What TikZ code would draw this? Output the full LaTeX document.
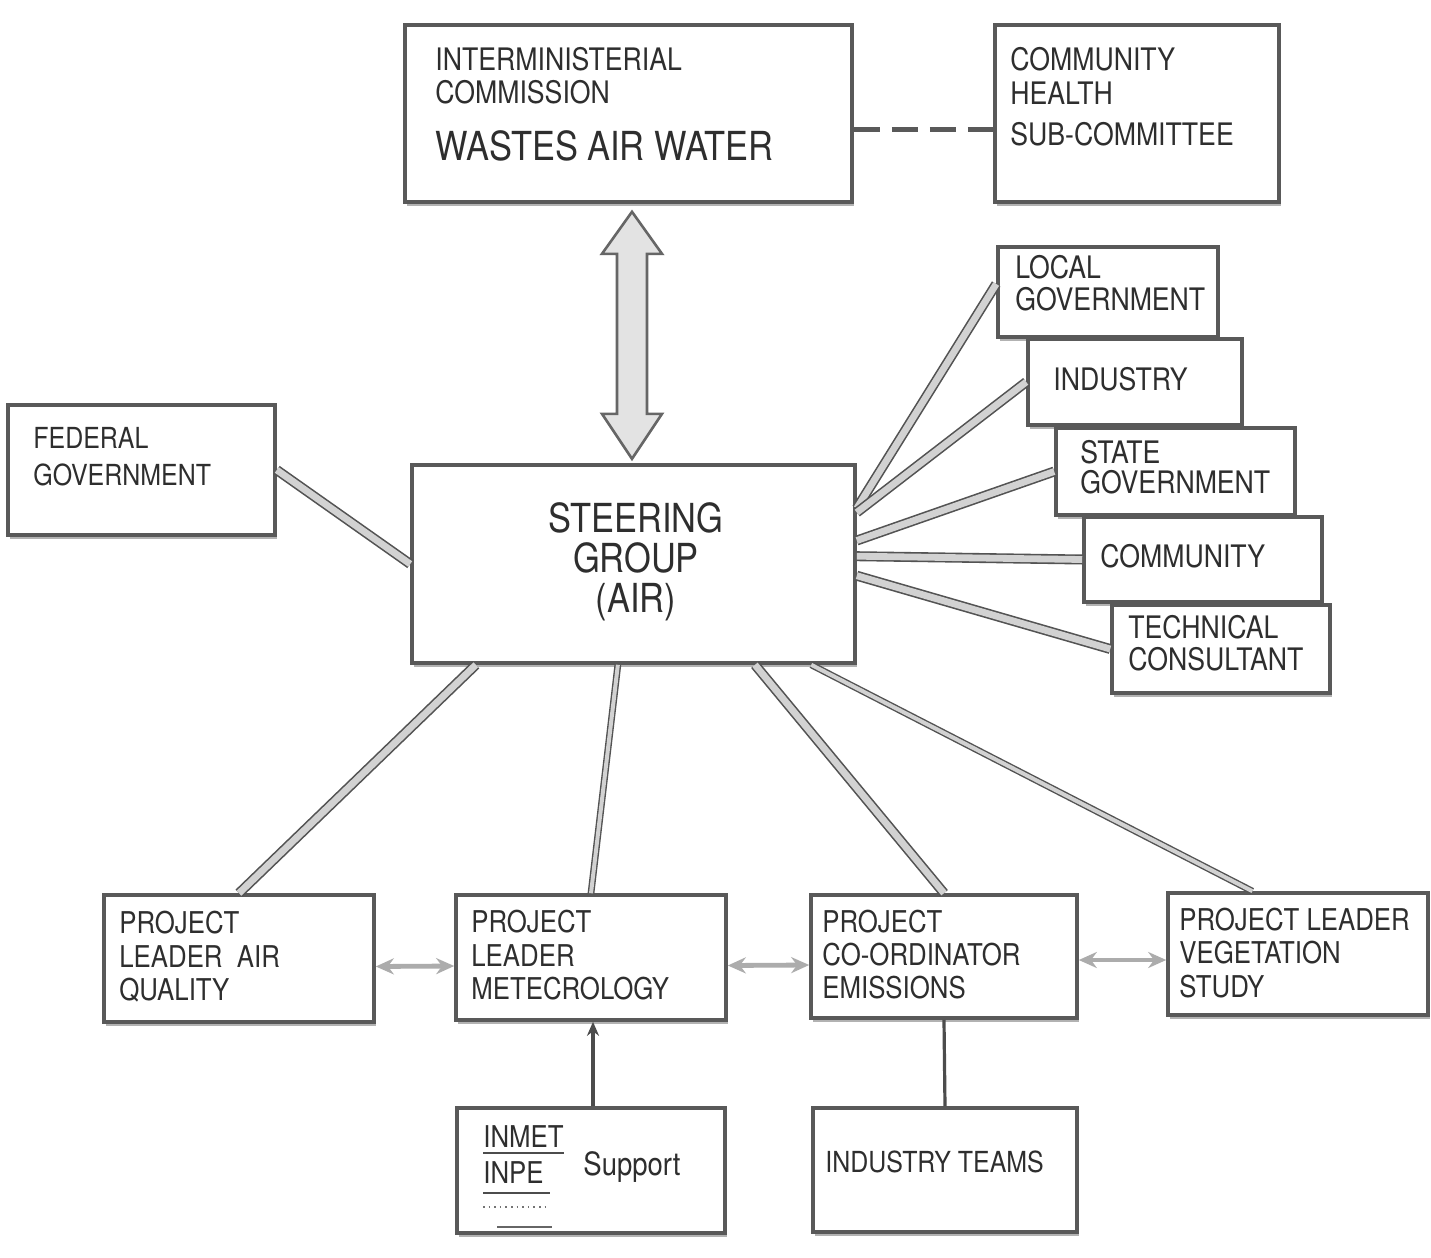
\documentclass[tikz,border=0pt]{standalone}
\usepackage{fontspec}
\setmainfont{TeX Gyre Heros}[FakeStretch=0.86]
\usetikzlibrary{arrows.meta,shadows,fit,calc}
\begin{document}
\begin{tikzpicture}[x=0.5pt,y=-0.5pt,
  box/.style={draw=black!65, line width=1.8pt, fill=white, inner sep=0pt,
    drop shadow={shadow xshift=1.2pt, shadow yshift=-2.2pt, fill=gray!60, opacity=1}},
  lbl/.style={anchor=base west, inner sep=0pt, text=black!82, font=\fontsize{15.5}{18}\selectfont},
  lblc/.style={lbl, anchor=base},
  big/.style={font=\fontsize{20}{24}\selectfont},
  med/.style={font=\fontsize{14.5}{17}\selectfont},
  prj/.style={font=\fontsize{15}{18}\selectfont},
  link/.style={draw=gray!65!black, line width=0.8pt, double=gray!35, double distance=3.4pt},
  thinlink/.style={draw=gray!65!black, line width=0.7pt, double=gray!35, double distance=2pt},
  harrow/.style={draw=gray!65, line width=2.4pt, {Stealth[length=9pt,width=8pt]}-{Stealth[length=9pt,width=8pt]}},
  vline/.style={draw=black!70, line width=1.6pt},
  dashlink/.style={draw=black!65, line width=2.6pt, dash pattern=on 13pt off 6pt},
  bigarrow/.style={draw=black!60, line width=1.3pt, fill=gray!22}
]
\fill[white] (0,0) rectangle (1431,1258);
\useasboundingbox (0,0) rectangle (1431,1258);

% boxes
\node[box, fit={(405,25)(852,202)}] (ic) {};
\node[box, fit={(995,25)(1279,202)}] (ch) {};
\node[box, fit={(412,465)(855,663)}] (st) {};
\node[box, fit={(8,405)(275,535)}] (fed) {};
\node[box, fit={(998,247)(1218,337)}] (lg) {};
\node[box, fit={(1028,339)(1242,425)}] (ind) {};
\node[box, fit={(1056,428)(1295,515)}] (sg) {};
\node[box, fit={(1084,517)(1322,602)}] (com) {};
\node[box, fit={(1112,605)(1330,693)}] (tc) {};
\node[box, fit={(104,895)(374,1022)}] (aq) {};
\node[box, fit={(456,895)(726,1020)}] (met) {};
\node[box, fit={(811,895)(1077,1018)}] (em) {};
\node[box, fit={(1168,893)(1428,1015)}] (veg) {};
\node[box, fit={(457,1108)(725,1233)}] (sup) {};
\node[box, fit={(813,1108)(1077,1232)}] (it) {};

% texts
\node[lbl] (ic1) at (435,70) {INTERMINISTERIAL};
\node[lbl] (ic2) at (435,103) {COMMISSION};
\node[lbl,big] (ic3) at (435,160) {WASTES AIR WATER};
\node[lbl] (ch1) at (1010,70) {COMMUNITY};
\node[lbl] (ch2) at (1010,104) {HEALTH};
\node[lbl] (ch3) at (1010,145) {SUB-COMMITTEE};
\node[lblc,big] (st1) at (636,532) {STEERING};
\node[lblc,big] (st2) at (636,572) {GROUP};
\node[lblc,big] (st3) at (636,612) {(AIR)};
\node[lbl,med] (fed1) at (33,448) {FEDERAL};
\node[lbl,med] (fed2) at (33,485) {GOVERNMENT};
\node[lbl] (lg1) at (1015,278) {LOCAL};
\node[lbl] (lg2) at (1015,310) {GOVERNMENT};
\node[lbl] (ind1) at (1053,390) {INDUSTRY};
\node[lbl] (sg1) at (1080,463) {STATE};
\node[lbl] (sg2) at (1080,493) {GOVERNMENT};
\node[lbl] (com1) at (1100,567) {COMMUNITY};
\node[lbl] (tc1) at (1128,638) {TECHNICAL};
\node[lbl] (tc2) at (1128,670) {CONSULTANT};
\node[lbl,prj] (aq1) at (119,933) {PROJECT};
\node[lbl,prj] (aq2) at (119,967) {LEADER\ \ AIR};
\node[lbl,prj] (aq3) at (119,1000) {QUALITY};
\node[lbl,prj] (met1) at (471,932) {PROJECT};
\node[lbl,prj] (met2) at (471,966) {LEADER};
\node[lbl,prj] (met3) at (471,999) {METECROLOGY};
\node[lbl,prj] (em1) at (822,932) {PROJECT};
\node[lbl,prj] (em2) at (822,965) {CO-ORDINATOR};
\node[lbl,prj] (em3) at (822,998) {EMISSIONS};
\node[lbl,prj] (veg1) at (1179,930) {PROJECT LEADER};
\node[lbl,prj] (veg2) at (1179,963) {VEGETATION};
\node[lbl,prj] (veg3) at (1179,997) {STUDY};
\node[lbl,prj] (sup1) at (483,1147) {INMET};
\node[lbl,prj] (sup2) at (483,1183) {INPE};
\node[lbl,font=\fontsize{16}{19}\selectfont] (sup3) at (583,1175) {Support};
\node[lbl,med] (it1) at (825,1172) {INDUSTRY TEAMS};

% underlines in support box
\draw[black!70, line width=1.2pt] ($(sup1.base west)+(0,6)$) -- ($(sup1.base east)+(0,6)$);
\draw[black!70, line width=1.2pt] ($(sup2.base west)+(0,10)$) -- ($(sup2.base east)+(6,10)$);
\draw[black!55, line width=0.8pt, dotted] ($(sup2.base west)+(0,24)$) -- ($(sup2.base east)+(6,24)$);
\draw[black!60, line width=1pt] ($(sup2.base west)+(14,44)$) -- ($(sup2.base east)+(8,44)$);

% big double arrow
\coordinate (ua) at ($(ic.south)+(3.5,8)$);
\draw[bigarrow] (ua) -- ++(30,42) -- ++(-15,0) -- ++(0,160) -- ++(15,0) -- ++(-30,45)
  -- ++(-30,-45) -- ++(15,0) -- ++(0,-160) -- ++(-15,0) -- cycle;

% dashed link
\draw[dashlink] ($(ic.north east)!0.59!(ic.south east)$) -- ($(ch.north west)!0.59!(ch.south west)$);

% federal link
\draw[link] (fed.east) -- (st.west);

% fan to the right
\draw[link] (st.14.4) -- ($(lg.west)+(0,-8)$);
\draw[link] (st.13) -- (ind.west);
\draw[link] (st.6.2) -- (sg.west);
\draw[link] (st.2.3) -- (com.west);
\draw[link] (st.-3.4) -- (tc.west);

% links to project boxes
\draw[link] ($(st.south west)!0.147!(st.south east)$) -- (aq.north);
\draw[thinlink] ($(st.south west)!0.465!(st.south east)$) -- (met.north);
\draw[link] ($(st.south west)!0.772!(st.south east)$) -- (em.north);
\draw[thinlink] ($(st.south west)!0.898!(st.south east)$) -- ($(veg.north west)!0.327!(veg.north east)$);

% horizontal double arrows
\draw[harrow] ($(aq.east)+(0,8)$) -- ($(met.west)+(0,8.5)$);
\draw[harrow] ($(met.east)+(0,8)$) -- ($(em.west)+(0,8.5)$);
\draw[harrow] ($(em.east)+(0,3.5)$) -- ($(veg.west)+(0,6)$);

% vertical links
\draw[vline, -{Stealth[length=7pt,width=6pt]}] ($(sup.north)+(2,0)$) -- ($(met.south)+(2,0)$);
\draw[vline] (em.south) -- (it.north);
\end{tikzpicture}
\end{document}
